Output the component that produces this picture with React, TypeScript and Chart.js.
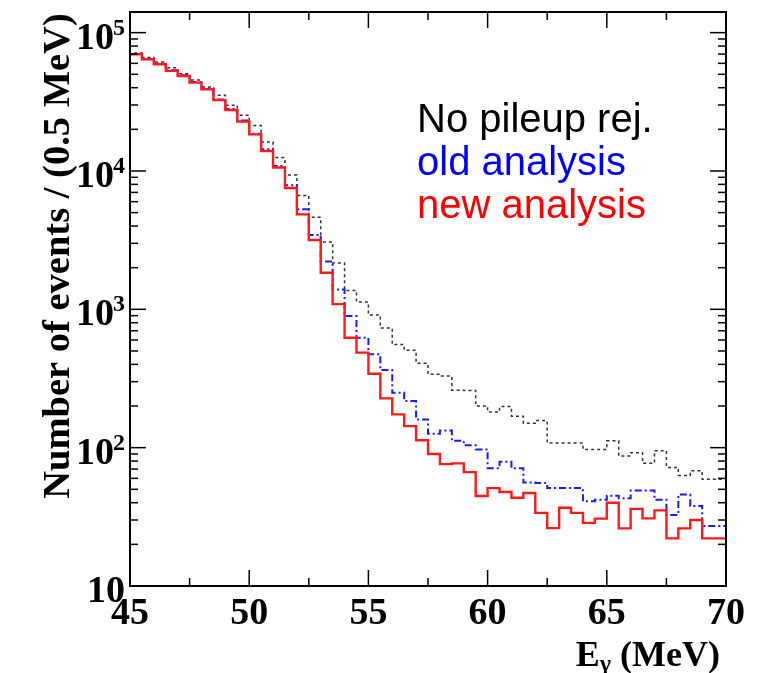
import React, { useEffect, useRef } from 'react';
import { Chart, registerables } from 'chart.js';

Chart.register(...registerables);

// Bin edges of the E_gamma histogram (0.5 MeV bins)
const BIN_EDGES = [
  45, 45.5, 46, 46.5, 47, 47.5, 48, 48.5, 49, 49.5,
  50, 50.5, 51, 51.5, 52, 52.5, 53, 53.5, 54, 54.5,
  55, 55.5, 56, 56.5, 57, 57.5, 58, 58.5, 59, 59.5,
  60, 60.5, 61, 61.5, 62, 62.5, 63, 63.5, 64, 64.5,
  65, 65.5, 66, 66.5, 67, 67.5, 68, 68.5, 69, 69.5,
  70,
];

const NO_PILEUP_REJ = [
  73800, 71300, 66200, 61400, 55800, 50500, 45500, 40500, 35300, 29900,
  25300, 21300, 16200, 12500, 9360, 6640, 4630, 3070, 2160, 1370,
  1130, 910, 732, 556, 505, 407, 339, 329, 260, 259,
  200, 181, 198, 169, 150, 157, 108, 108, 108, 97,
  97, 112, 87, 92, 77, 95, 72, 63, 68, 59,
];

const OLD_ANALYSIS = [
  73100, 70200, 64800, 59600, 53500, 49200, 44000, 39500, 32900, 28100,
  23200, 18600, 14350, 10870, 7880, 5290, 3450, 2220, 1390, 894,
  623, 473, 364, 249, 217, 160, 126, 133, 112, 104,
  97, 71, 79, 71, 56, 55.5, 51, 51, 51, 41,
  42, 45, 43, 49, 49, 42, 32.6, 45.8, 37.8, 27.1,
];

const NEW_ANALYSIS = [
  72500, 69800, 64200, 59100, 52900, 48600, 43500, 39000, 32500, 27600,
  22800, 18400, 13960, 10600, 7540, 4860, 3170, 1840, 1090, 623,
  486, 342, 227, 174, 143, 113, 90, 76, 77, 66.6,
  44.7, 51, 47.8, 43.4, 47, 33.8, 26.2, 36.8, 33.8, 28.6,
  30.7, 40, 26.1, 36.1, 30.8, 35.2, 22.1, 26.1, 30, 22.1,
];

const X_TICKS = [45, 50, 55, 60, 65, 70];
const X_MINOR_TICKS = [47.5, 52.5, 57.5, 62.5, 67.5];
const Y_TICKS = [10, 100, 1000, 10000, 100000];
const Y_TICK_EXPONENTS = ['', '2', '3', '4', '5'];
const LEGEND_LABELS = ['No pileup rej.', 'old analysis', 'new analysis'];
const LEGEND_COLORS = ['#000000', '#0000ff', '#ff0000'];
const Y_TITLE = 'Number of events / (0.5 MeV)';
const X_TITLE_MAIN = 'E';
const X_TITLE_SUB = 'γ';
const X_TITLE_REST = ' (MeV)';

const toSteps = (values: number[]) => {
  const pts = values.map((v, i) => ({ x: BIN_EDGES[i], y: v }));
  pts.push({ x: BIN_EDGES[values.length], y: values[values.length - 1] });
  return pts;
};

const SERIF = '"Liberation Serif", "Times New Roman", serif';
const SANS = '"Liberation Sans", Arial, sans-serif';

const rootFrame = {
  id: 'rootFrame',
  afterDraw(chart: any) {
    const { ctx, chartArea: a, scales } = chart;
    const xs = scales.x;
    const ys = scales.y;
    ctx.save();
    const line = (x1: number, y1: number, x2: number, y2: number) => {
      ctx.beginPath();
      ctx.moveTo(x1, y1);
      ctx.lineTo(x2, y2);
      ctx.stroke();
    };
    ctx.strokeStyle = '#000';
    ctx.lineWidth = 1.5;
    X_TICKS.forEach((v) => {
      const px = xs.getPixelForValue(v);
      line(px, a.bottom, px, a.bottom - 16);
      line(px, a.top, px, a.top + 16);
    });
    X_MINOR_TICKS.forEach((v) => {
      const px = xs.getPixelForValue(v);
      line(px, a.bottom, px, a.bottom - 8);
      line(px, a.top, px, a.top + 8);
    });
    for (let d = 10; d < 1e6; d *= 10) {
      for (let m = 1; m <= 9; m++) {
        const v = d * m;
        if (v < ys.min || v > ys.max) continue;
        const py = ys.getPixelForValue(v);
        const len = m === 1 ? 16 : 8;
        line(a.left, py, a.left + len, py);
        line(a.right, py, a.right - len, py);
      }
    }
    ctx.lineWidth = 2;
    ctx.strokeRect(a.left, a.top, a.right - a.left, a.bottom - a.top);

    // x tick labels
    ctx.fillStyle = '#000';
    ctx.font = `bold 38px ${SERIF}`;
    ctx.textAlign = 'center';
    ctx.textBaseline = 'alphabetic';
    X_TICKS.forEach((v) => {
      ctx.fillText(String(v), xs.getPixelForValue(v), a.bottom + 38);
    });

    // y tick labels
    const rightEdge = a.left - 5;
    Y_TICKS.forEach((v, i) => {
      const py = ys.getPixelForValue(v);
      const exp = Y_TICK_EXPONENTS[i];
      ctx.font = `bold 24px ${SERIF}`;
      const ew = exp ? ctx.measureText(exp).width : 0;
      ctx.textAlign = 'right';
      if (exp) {
        ctx.fillText(exp, rightEdge, py + 2);
      }
      ctx.font = `bold 38px ${SERIF}`;
      ctx.fillText('10', rightEdge - ew + (exp ? 1 : 0), py + 16);
    });

    // y title
    ctx.save();
    ctx.translate(69, 256);
    ctx.rotate(-Math.PI / 2);
    ctx.font = `bold 38.5px ${SERIF}`;
    ctx.textAlign = 'center';
    ctx.textBaseline = 'alphabetic';
    ctx.fillText(Y_TITLE, 0, 0);
    ctx.restore();

    // x title
    ctx.textAlign = 'left';
    ctx.font = `bold 36px ${SERIF}`;
    const wMain = ctx.measureText(X_TITLE_MAIN).width;
    const wRest = ctx.measureText(X_TITLE_REST).width;
    ctx.font = `bold 24px ${SERIF}`;
    const wSub = ctx.measureText(X_TITLE_SUB).width;
    const total = wMain + wSub + wRest;
    let x0 = a.right - 6 - total;
    const base = 666;
    ctx.font = `bold 36px ${SERIF}`;
    ctx.fillText(X_TITLE_MAIN, x0, base);
    x0 += wMain;
    ctx.font = `bold 24px ${SERIF}`;
    ctx.fillText(X_TITLE_SUB, x0, base + 5);
    x0 += wSub;
    ctx.font = `bold 36px ${SERIF}`;
    ctx.fillText(X_TITLE_REST, x0, base);

    // legend
    ctx.font = `40px ${SANS}`;
    LEGEND_LABELS.forEach((t, i) => {
      ctx.fillStyle = LEGEND_COLORS[i];
      ctx.fillText(t, 417, 132 + i * 43);
    });
    ctx.restore();
  },
};

export default function App() {
  const ref = useRef<HTMLCanvasElement | null>(null);
  useEffect(() => {
    if (!ref.current) return;
    const chart = new Chart(ref.current, {
      type: 'line',
      data: {
        datasets: [
          {
            label: LEGEND_LABELS[2],
            data: toSteps(NEW_ANALYSIS),
            borderColor: '#ff1a1a',
            borderWidth: 2.4,
            stepped: 'after',
            pointRadius: 0,
            fill: false,
            order: 0,
          },
          {
            label: LEGEND_LABELS[1],
            data: toSteps(OLD_ANALYSIS),
            borderColor: '#1a1aff',
            borderWidth: 2,
            borderDash: [7, 3, 2, 3],
            stepped: 'after',
            pointRadius: 0,
            fill: false,
            order: 1,
          },
          {
            label: LEGEND_LABELS[0],
            data: toSteps(NO_PILEUP_REJ),
            borderColor: '#333333',
            borderWidth: 1.5,
            borderDash: [3, 3],
            stepped: 'after',
            pointRadius: 0,
            fill: false,
            order: 2,
          },
        ],
      },
      options: {
        animation: false,
        responsive: false,
        maintainAspectRatio: false,
        layout: { padding: { left: 130, right: 43, top: 12, bottom: 87 } },
        plugins: { legend: { display: false }, tooltip: { enabled: false } },
        scales: {
          x: { type: 'linear', min: 45, max: 70, display: false },
          y: { type: 'logarithmic', min: 10, max: 141000, display: false },
        },
      },
      plugins: [rootFrame],
    });
    return () => chart.destroy();
  }, []);
  return (
    <div style={{ position: 'fixed', left: 0, top: 0, width: 769, height: 673, background: '#fff' }}>
      <canvas ref={ref} width={769} height={673} style={{ width: 769, height: 673, display: 'block' }} />
    </div>
  );
}
